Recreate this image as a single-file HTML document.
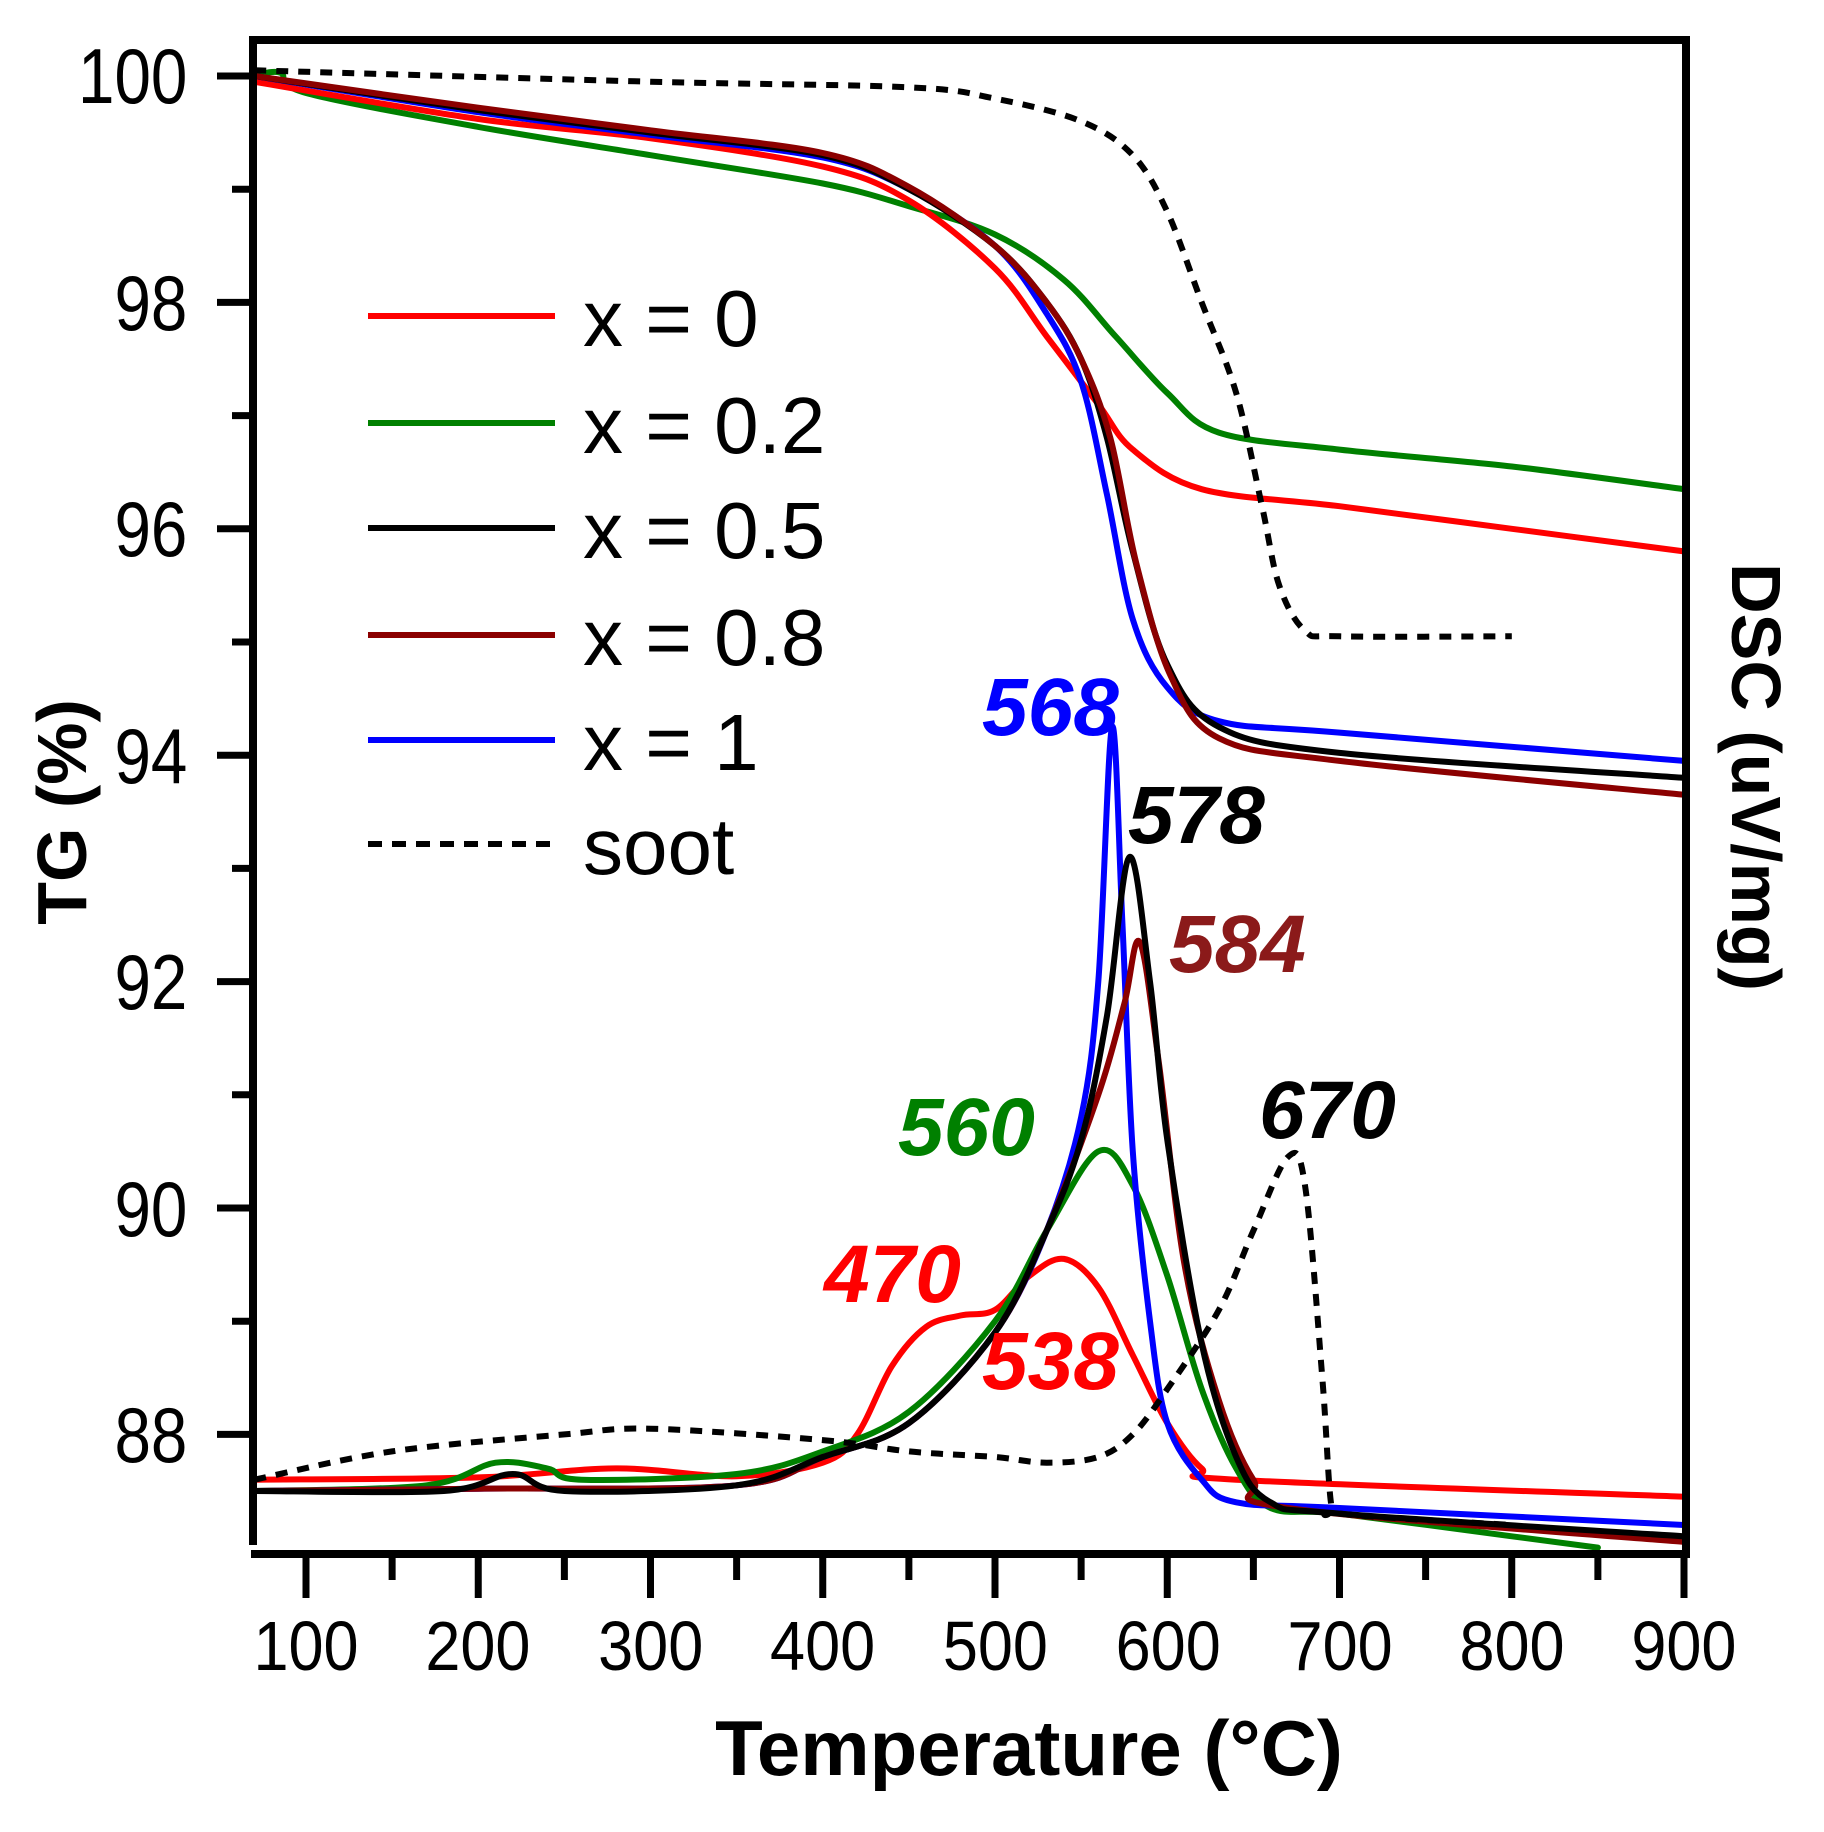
<!DOCTYPE html>
<html><head><meta charset="utf-8"><style>
html,body{margin:0;padding:0;background:#fff;}
svg{display:block;}
text{font-family:"Liberation Sans",Arial,sans-serif;}
</style></head><body>
<svg id="s" width="1824" height="1832" viewBox="0 0 1824 1832" xmlns="http://www.w3.org/2000/svg">
<g id="curves" fill="none" stroke-width="6" stroke-linejoin="round" stroke-linecap="round"></g>
<g stroke="#000" stroke-width="8" fill="none">
<line x1="253" y1="40" x2="1686" y2="40"/>
<line x1="1686" y1="36" x2="1686" y2="1556"/>
<line x1="253" y1="36" x2="253" y2="1545"/>
<line x1="251" y1="1554" x2="1690" y2="1554"/>
</g>
<g id="ticks" stroke="#000" stroke-width="7"></g>
<g font-size="78" fill="#000" text-anchor="end" transform="scale(0.84,1)">
<text x="223" y="103">100</text>
<text x="223" y="330">98</text>
<text x="223" y="556">96</text>
<text x="223" y="783">94</text>
<text x="223" y="1009">92</text>
<text x="223" y="1236">90</text>
<text x="223" y="1462">88</text>
</g>
<g font-size="70" fill="#000" text-anchor="middle" transform="scale(0.9,1)">
<text x="340" y="1670">100</text>
<text x="531" y="1670">200</text>
<text x="723" y="1670">300</text>
<text x="914" y="1670">400</text>
<text x="1106" y="1670">500</text>
<text x="1298" y="1670">600</text>
<text x="1489" y="1670">700</text>
<text x="1680" y="1670">800</text>
<text x="1871" y="1670">900</text>
</g>
<text x="1029" y="1775" font-size="78" font-weight="bold" text-anchor="middle">Temperature (°C)</text>
<text transform="translate(86,812) rotate(-90)" font-size="70" font-weight="bold" text-anchor="middle">TG (%)</text>
<text transform="translate(1732,777) rotate(90)" font-size="70" font-weight="bold" text-anchor="middle">DSC (uV/mg)</text>
<g stroke-width="6">
<line x1="368" y1="316" x2="555" y2="316" stroke="#ff0000"/>
<line x1="368" y1="423" x2="555" y2="423" stroke="#008000"/>
<line x1="368" y1="528" x2="555" y2="528" stroke="#000"/>
<line x1="368" y1="635" x2="555" y2="635" stroke="#8b0000"/>
<line x1="368" y1="740" x2="555" y2="740" stroke="#0000ff"/>
<line x1="368" y1="844" x2="555" y2="844" stroke="#000" stroke-dasharray="14,10"/>
</g>
<g font-size="80" fill="#000">
<text x="583" y="346">x = 0</text>
<text x="583" y="453">x = 0.2</text>
<text x="583" y="558">x = 0.5</text>
<text x="583" y="665">x = 0.8</text>
<text x="583" y="770">x = 1</text>
<text x="583" y="874">soot</text>
</g>
<g font-size="82" font-weight="bold" font-style="italic">
<text x="982" y="735" fill="#0000ff">568</text>
<text x="1128" y="843" fill="#000">578</text>
<text x="1169" y="972" fill="#8b1a1a">584</text>
<text x="898" y="1155" fill="#008000">560</text>
<text x="1259" y="1138" fill="#000">670</text>
<text x="824" y="1302" fill="#ff0000">470</text>
<text x="982" y="1389" fill="#ff0000">538</text>
</g>
</svg>
<script>
function X(t){return 306+(t-100)*1.7225;}
function Y(v){return 76+(100-v)*113.2;}
function path(d){
  var p=d.map(function(a){return [X(a[0]),Y(a[1])];});
  var s="M"+p[0][0].toFixed(1)+","+p[0][1].toFixed(1);
  for(var i=0;i<p.length-1;i++){
    var p0=p[i-1]||p[i],p1=p[i],p2=p[i+1],p3=p[i+2]||p2;
    var c1=[p1[0]+(p2[0]-p0[0])/6,p1[1]+(p2[1]-p0[1])/6];
    var c2=[p2[0]-(p3[0]-p1[0])/6,p2[1]-(p3[1]-p1[1])/6];
    s+=" C"+c1[0].toFixed(1)+","+c1[1].toFixed(1)+" "+c2[0].toFixed(1)+","+c2[1].toFixed(1)+" "+p2[0].toFixed(1)+","+p2[1].toFixed(1);
  }
  return s;
}
var series=[
 ["#008000",0,[[70,100.0],[85,100.03],[100,99.85],[200,99.55],[300,99.3],[400,99.05],[450,98.85],[500,98.6],[540,98.2],[570,97.7],[600,97.2],[630,96.85],[700,96.7],[800,96.55],[900,96.35]]],
 ["#ff0000",0,[[70,99.95],[200,99.62],[300,99.45],[400,99.2],[450,98.9],[500,98.3],[530,97.7],[560,97.1],[580,96.7],[620,96.35],[700,96.2],[800,96.0],[900,95.8]]],
 ["#0000ff",0,[[70,100],[200,99.68],[300,99.48],[400,99.28],[450,99.0],[500,98.5],[530,97.9],[550,97.3],[565,96.3],[580,95.2],[600,94.6],[630,94.3],[700,94.2],[900,93.95]]],
 ["#000",0,[[70,100],[200,99.7],[300,99.5],[400,99.3],[450,99.0],[500,98.5],[530,98.0],[550,97.5],[565,96.8],[580,95.8],[600,94.8],[630,94.25],[700,94.02],[900,93.8]]],
 ["#8b0000",0,[[70,100],[200,99.72],[300,99.52],[400,99.32],[450,99.02],[500,98.5],[530,98.0],[550,97.5],[567,96.8],[582,95.7],[602,94.7],[630,94.15],[700,93.95],[900,93.65]]],
 ["#000",1,[[70,100.05],[300,99.95],[450,99.9],[500,99.8],[550,99.6],[580,99.3],[600,98.8],[620,98.0],[640,97.2],[655,96.2],[665,95.5],[680,95.1],[700,95.05],[800,95.05]]],
 ["#ff0000",0,[[70,87.6],[200,87.62],[280,87.7],[350,87.63],[400,87.75],[420,88.0],[440,88.6],[460,88.95],[480,89.05],[500,89.1],[520,89.4],[540,89.55],[560,89.3],[580,88.7],[600,88.1],[620,87.7],[640,87.6],[900,87.45]]],
 ["#008000",0,[[70,87.5],[170,87.55],[210,87.75],[240,87.7],[260,87.6],[350,87.65],[400,87.85],[450,88.2],[500,89.0],[530,89.8],[560,90.5],[580,90.2],[600,89.4],[620,88.4],[640,87.7],[660,87.35],[700,87.3],[800,87.1],[850,87.0]]],
 ["#0000ff",0,[[70,87.5],[200,87.52],[350,87.55],[400,87.8],[450,88.1],[500,88.9],[530,89.8],[550,90.8],[560,92.0],[568,94.25],[574,92.5],[580,90.5],[590,89.0],[600,88.1],[620,87.6],[640,87.4],[700,87.35],[900,87.2]]],
 ["#8b0000",0,[[70,87.5],[200,87.52],[350,87.55],[400,87.8],[450,88.1],[500,88.9],[530,89.8],[560,91.0],[575,91.8],[584,92.35],[595,91.3],[610,89.5],[630,88.3],[650,87.6],[670,87.35],[900,87.05]]],
 ["#000",0,[[70,87.5],[180,87.5],[220,87.65],[250,87.5],[350,87.55],[400,87.8],[450,88.1],[500,88.9],[530,89.8],[550,90.6],[565,91.7],[578,93.1],[590,92.0],[600,90.6],[620,88.8],[640,87.8],[660,87.4],[700,87.3],[900,87.1]]],
 ["#000",1,[[70,87.6],[150,87.85],[250,88.0],[300,88.05],[400,87.95],[450,87.85],[500,87.8],[530,87.75],[560,87.8],[580,88.0],[600,88.4],[630,89.1],[650,89.8],[670,90.45],[680,90.2],[690,88.5],[695,87.4],[700,87.3],[800,87.2]]]
];
var g=document.getElementById("curves"),ns="http://www.w3.org/2000/svg";
series.forEach(function(s){
  var e=document.createElementNS(ns,"path");
  e.setAttribute("d",path(s[2]));e.setAttribute("stroke",s[0]);
  if(s[1]){e.setAttribute("stroke-dasharray","12,10");e.setAttribute("stroke-width","6");e.setAttribute("stroke-linecap","butt");}
  g.appendChild(e);
});
var tk=document.getElementById("ticks");
function ln(x1,y1,x2,y2){var e=document.createElementNS(ns,"line");e.setAttribute("x1",x1);e.setAttribute("y1",y1);e.setAttribute("x2",x2);e.setAttribute("y2",y2);tk.appendChild(e);}
for(var v=88;v<=100;v++){var y=Y(v);ln(v%2?232:217,y,253,y);}
for(var t=100;t<=900;t+=50){var x=X(t);ln(x,1554,x,t%100?1580:1598);}
</script>
</body></html>
